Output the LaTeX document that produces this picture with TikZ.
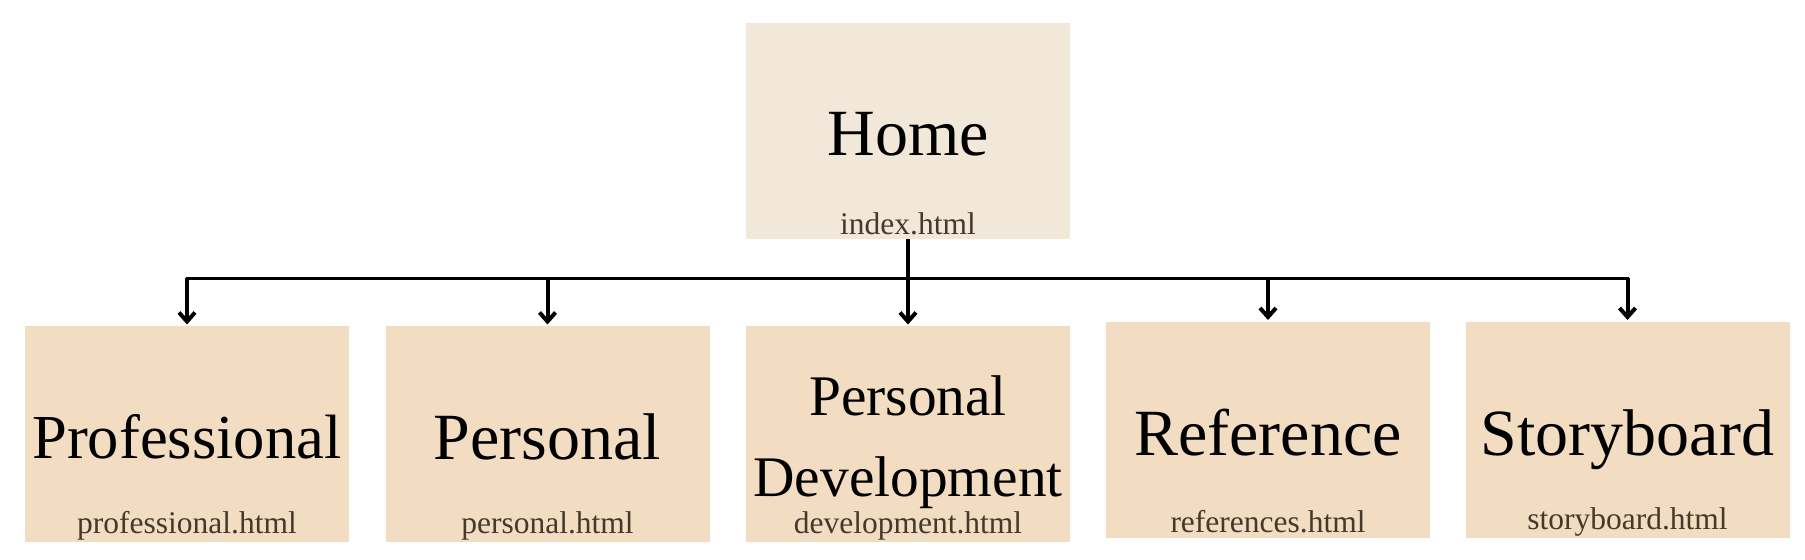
\documentclass[tikz,border=0pt]{standalone}
\usepackage{fontspec}
\setmainfont{Liberation Serif}
\usetikzlibrary{arrows.meta}

\definecolor{homefill}{HTML}{F2E8D9}
\definecolor{pagefill}{HTML}{F2DCC2}
\definecolor{filetext}{HTML}{45392B}

\begin{document}
\begin{tikzpicture}[x=0.5pt, y=-0.5pt, >={Straight Barb[length=4.5pt,width=8pt]},
  box/.style={rectangle, inner sep=0pt, minimum width=162pt, minimum height=108pt, fill=pagefill},
  title/.style={anchor=base, inner sep=0pt, font=\fontsize{33}{36}\selectfont},
  file/.style={anchor=base, inner sep=0pt, text=filetext, font=\fontsize{15.75}{18}\selectfont},
  link/.style={->, line width=2pt}]

  \useasboundingbox (0,0) rectangle (1805,560);

  % page boxes
  \node[box, fill=homefill] (home) at (908,131) {};
  \node[box] (prof) at (187,434.5) {};
  \node[box] (pers) at (547.5,434.5) {};
  \node[box] (dev) at (908,434.5) {};
  \node[box] (refs) at (1268,430) {};
  \node[box] (story) at (1627.5,430) {};

  % page titles
  \node[title] (hometitle) at ([yshift=-12.5pt]home.center) {Home};
  \node[title, font=\fontsize{31.3}{36}\selectfont] (proftitle) at ([yshift=-12pt]prof.center) {Professional};
  \node[title] (perstitle) at ([yshift=-12.5pt]pers.center) {Personal};
  \node[title, align=center, font=\fontsize{28.7}{40.5}\selectfont] (devtitle) at ([yshift=-30.8pt]dev.center) {Personal\\Development};
  \node[title] (refstitle) at ([yshift=-13pt]refs.center) {Reference};
  \node[title] (storytitle) at ([yshift=-13pt]story.center) {Storyboard};

  % file names
  \node[file] (homefile) at ([yshift=2.5pt]home.south) {index.html};
  \node[file] (proffile) at ([yshift=4.5pt]prof.south) {professional.html};
  \node[file] (persfile) at ([yshift=4.5pt]pers.south) {personal.html};
  \node[file] (devfile) at ([yshift=4.5pt]dev.south) {development.html};
  \node[file] (refsfile) at ([yshift=3pt]refs.south) {references.html};
  \node[file] (storyfile) at ([yshift=4.5pt]story.south) {storyboard.html};

  % links
  \coordinate (bus) at (908,278.5);
  \draw[line width=1.5pt, line cap=rect] (prof.north |- bus) -- (story.north |- bus);
  \draw[link, shorten >=0.8pt] (home) -- (dev);
  \foreach \n in {prof,pers,refs,story}
    \draw[link, shorten >=0.8pt] (\n.north |- bus) -- (\n.north);

\end{tikzpicture}
\end{document}
